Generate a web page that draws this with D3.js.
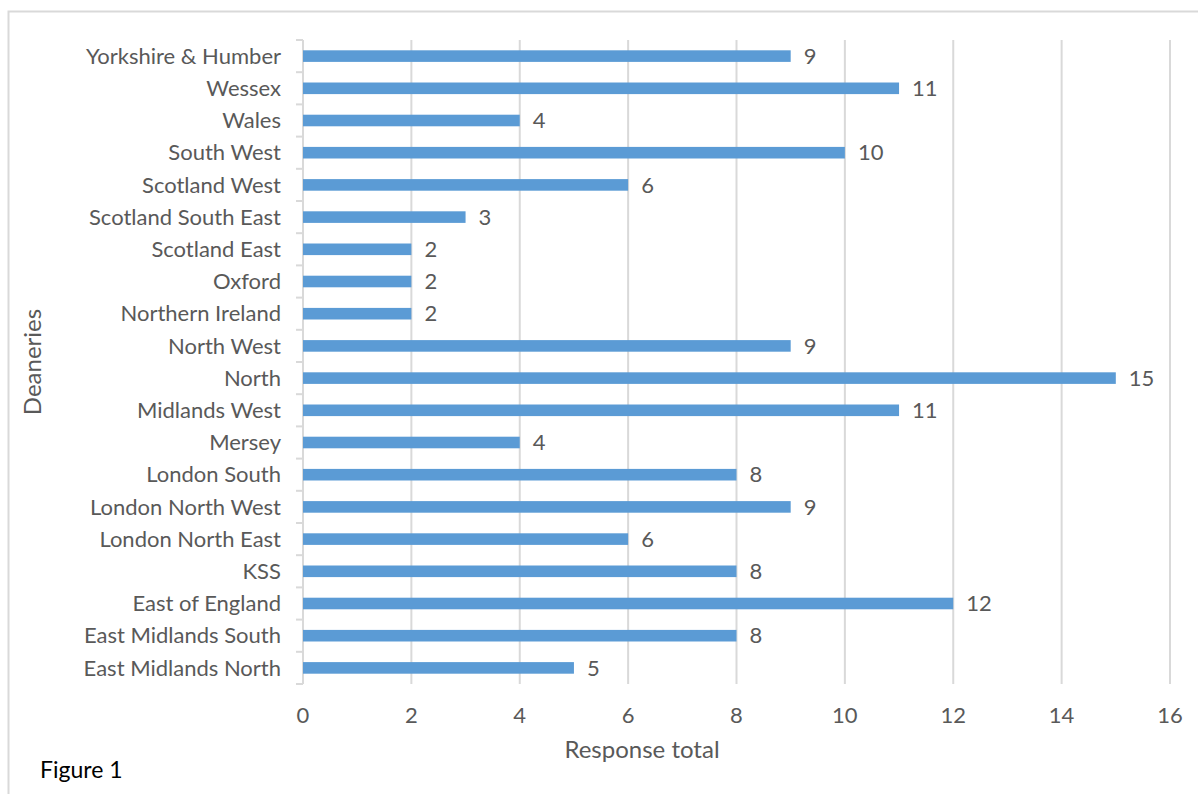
<!DOCTYPE html>
<html>
<head>
<meta charset="utf-8">
<script src="https://cdn.jsdelivr.net/npm/d3@7/dist/d3.min.js"></script>
<style>
  html, body { margin: 0; padding: 0; background: #fff; }
  svg { display: block; }
</style>
</head>
<body>
<svg id="chart" width="1198" height="794"></svg>
<script>
// Responses per deanery, listed bottom to top as drawn
const deaneries = [
  "East Midlands North", "East Midlands South", "East of England", "KSS",
  "London North East", "London North West", "London South", "Mersey",
  "Midlands West", "North", "North West", "Northern Ireland", "Oxford",
  "Scotland East", "Scotland South East", "Scotland West", "South West",
  "Wales", "Wessex", "Yorkshire & Humber"
];
const responses = [5, 8, 12, 8, 6, 9, 8, 4, 11, 15, 9, 2, 2, 2, 3, 6, 10, 4, 11, 9];
const xTicks = [0, 2, 4, 6, 8, 10, 12, 14, 16];

const font = "Lato, Calibri, Carlito, sans-serif";
const textColor = "#595959";
const gridColor = "#d9d9d9";
const barColor = "#5b9bd5";

const svg = d3.select("#chart");

// chart frame
svg.append("path")
  .attr("d", "M8.5,800 V11.5 H1205")
  .attr("fill", "none")
  .attr("stroke", gridColor)
  .attr("stroke-width", 2);

const plot = { left: 303, right: 1170, top: 40, bottom: 684 };

const x = d3.scaleLinear().domain([0, 16]).range([plot.left, plot.right]);
const y = d3.scaleBand()
  .domain(deaneries.slice().reverse())
  .range([plot.top, plot.bottom])
  .paddingInner(0.64)
  .paddingOuter(0.32);

// vertical gridlines
svg.append("g")
  .selectAll("line")
  .data(xTicks.slice(1))
  .join("line")
  .attr("x1", d => x(d)).attr("x2", d => x(d))
  .attr("y1", plot.top).attr("y2", plot.bottom)
  .attr("stroke", gridColor)
  .attr("stroke-width", 2);

// category axis line with band-boundary ticks
const step = (plot.bottom - plot.top) / deaneries.length;
const yAxis = svg.append("g");
yAxis.append("line")
  .attr("x1", plot.left).attr("x2", plot.left)
  .attr("y1", plot.top).attr("y2", plot.bottom)
  .attr("stroke", gridColor).attr("stroke-width", 2);
yAxis.selectAll("line.tick")
  .data(d3.range(deaneries.length + 1))
  .join("line")
  .attr("class", "tick")
  .attr("x1", plot.left - 7).attr("x2", plot.left)
  .attr("y1", i => plot.top + i * step).attr("y2", i => plot.top + i * step)
  .attr("stroke", gridColor).attr("stroke-width", 2);

// category labels
svg.append("g")
  .selectAll("text")
  .data(deaneries)
  .join("text")
  .attr("x", 281)
  .attr("y", d => y(d) + y.bandwidth() / 2)
  .attr("dy", "0.35em")
  .attr("text-anchor", "end")
  .attr("font-family", font)
  .attr("font-size", 22)
  .attr("fill", textColor)
  .text(d => d);

// bars
svg.append("g")
  .selectAll("rect")
  .data(deaneries)
  .join("rect")
  .attr("x", x(0))
  .attr("y", (d) => y(d))
  .attr("width", (d, i) => x(responses[i]) - x(0))
  .attr("height", y.bandwidth())
  .attr("fill", barColor);

// value labels
svg.append("g")
  .selectAll("text")
  .data(deaneries)
  .join("text")
  .attr("x", (d, i) => x(responses[i]) + 13)
  .attr("y", d => y(d) + y.bandwidth() / 2)
  .attr("dy", "0.35em")
  .attr("font-family", font)
  .attr("font-size", 22)
  .attr("fill", textColor)
  .text((d, i) => responses[i]);

// x tick labels
svg.append("g")
  .selectAll("text")
  .data(xTicks)
  .join("text")
  .attr("x", d => x(d))
  .attr("y", 715)
  .attr("dy", "0.35em")
  .attr("text-anchor", "middle")
  .attr("font-family", font)
  .attr("font-size", 22)
  .attr("fill", textColor)
  .text(d => d);

// axis titles
svg.append("text")
  .attr("x", 642).attr("y", 750)
  .attr("dy", "0.35em")
  .attr("text-anchor", "middle")
  .attr("font-family", font)
  .attr("font-size", 24)
  .attr("fill", textColor)
  .text("Response total");

svg.append("text")
  .attr("transform", `translate(33,${(plot.top + plot.bottom) / 2}) rotate(-90)`)
  .attr("dy", "0.35em")
  .attr("text-anchor", "middle")
  .attr("font-family", font)
  .attr("font-size", 24)
  .attr("fill", textColor)
  .text("Deaneries");

svg.append("text")
  .attr("x", 40).attr("y", 770)
  .attr("dy", "0.35em")
  .attr("font-family", font)
  .attr("font-size", 23)
  .attr("fill", "#000")
  .text("Figure 1");
</script>
</body>
</html>
